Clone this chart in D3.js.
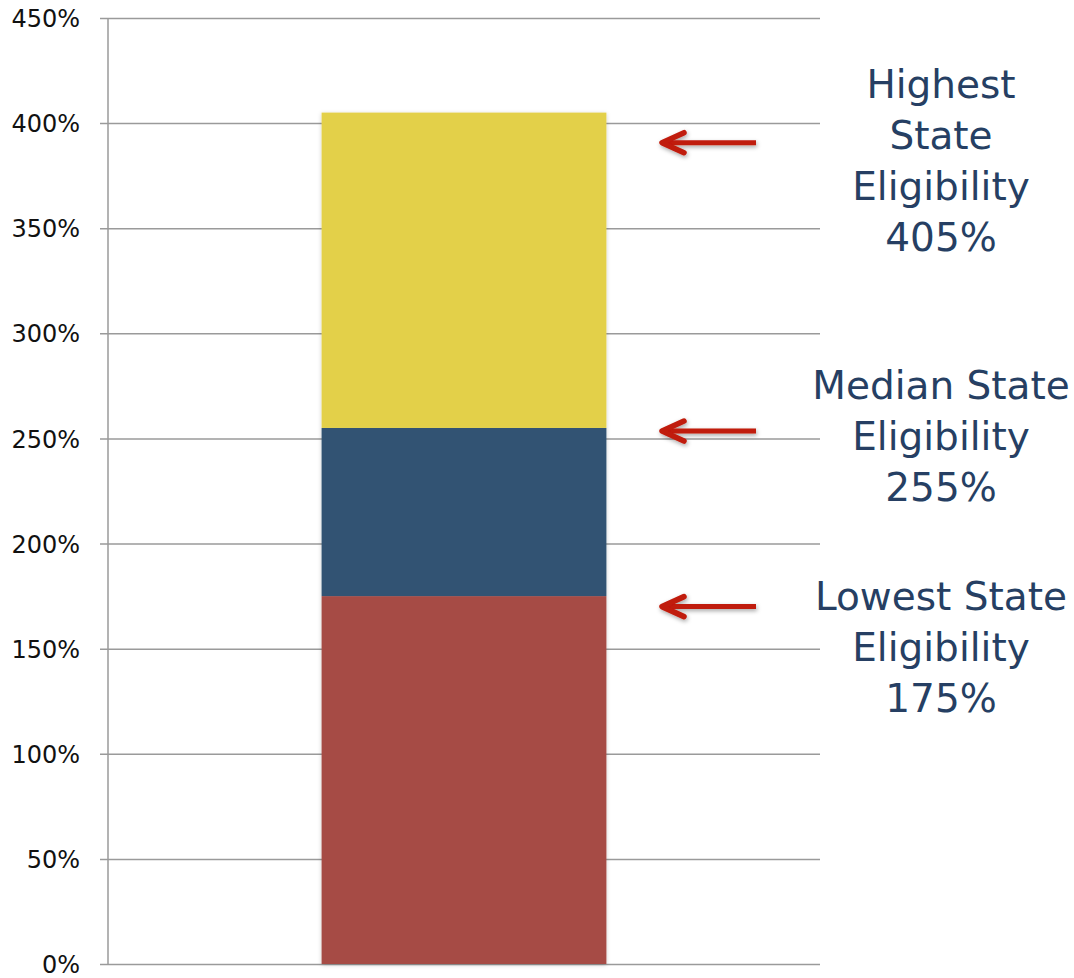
<!DOCTYPE html>
<html>
<head>
<meta charset="utf-8">
<script src="https://cdn.jsdelivr.net/npm/d3@7"></script>
<style>
  body { margin: 0; background: #fff; }
  svg { display: block; }
</style>
</head>
<body>
<svg id="chart"></svg>
<script>
// data
var category = ["States"];
var segNames = ["Lowest", "Median", "Highest"];
var segValues = [175, 255, 405];          // cumulative top of each segment (%)
var segColors = ["#a64b45", "#305373", "#e3d04a"];
var yTicks = [0, 50, 100, 150, 200, 250, 300, 350, 400, 450];

// annotation text + where the arrow / first text line sit (in % units)
var noteLines = [
  ["Lowest State", "Eligibility", "175%"],
  ["Median State", "Eligibility", "255%"],
  ["Highest", "State", "Eligibility", "405%"]
];
var arrowAt = [170, 253.5, 390.7];
var noteTopAt = [168.4, 269, 412];

var width = 1074, height = 978;
var margin = {left: 108, right: 254, top: 18, bottom: 14};

var svg = d3.select('#chart')
    .attr('width', width)
    .attr('height', height);

var defs = svg.append('defs');
var sh = defs.append('filter').attr('id', 'shadow')
    .attr('x', '-20%').attr('y', '-20%').attr('width', '140%').attr('height', '140%');
sh.append('feDropShadow')
    .attr('dx', 1).attr('dy', 2).attr('stdDeviation', 2)
    .attr('flood-color', '#000').attr('flood-opacity', 0.35);
var bsh = defs.append('filter').attr('id', 'barshadow')
    .attr('x', '-5%').attr('y', '-5%').attr('width', '110%').attr('height', '110%');
bsh.append('feDropShadow')
    .attr('dx', 0).attr('dy', 1).attr('stdDeviation', 2)
    .attr('flood-color', '#000').attr('flood-opacity', 0.2);

var yScale = d3.scaleLinear()
    .domain([0, 450])
    .range([height - margin.bottom, margin.top]);

var xScale = d3.scaleBand()
    .domain(category)
    .range([margin.left, width - margin.right])
    .paddingInner(0)
    .paddingOuter(0.75);

// gridlines
var yAxis = d3.axisLeft(yScale)
    .tickValues(yTicks)
    .tickFormat(function(d) { return d + '%'; })
    .tickSize(-(width - margin.right - margin.left))
    .tickPadding(0);

var gAxis = svg.append('g')
    .attr('transform', 'translate(' + margin.left + ',0)')
    .call(yAxis);
gAxis.select('.domain').remove();
gAxis.selectAll('.tick line')
    .attr('x1', -8)
    .attr('stroke', '#9a9a9a')
    .attr('stroke-width', 1.5);
gAxis.selectAll('.tick text')
    .attr('x', -28)
    .attr('dy', '0.36em')
    .style('font-family', '"DejaVu Sans", Verdana, sans-serif')
    .style('font-size', '24px')
    .attr('fill', '#111');

// vertical axis line
svg.append('line')
    .attr('x1', margin.left).attr('x2', margin.left)
    .attr('y1', yScale(450)).attr('y2', yScale(0))
    .attr('stroke', '#9a9a9a')
    .attr('stroke-width', 1.5);

// stacked bar
var segs = segValues.map(function(v, i) {
  return {name: segNames[i], y0: i === 0 ? 0 : segValues[i - 1], y1: v, color: segColors[i]};
});

svg.append('g')
    .attr('filter', 'url(#barshadow)')
  .selectAll('rect')
  .data(segs)
  .enter()
  .append('rect')
    .attr('x', xScale('States'))
    .attr('width', xScale.bandwidth())
    .attr('y', function(d) { return yScale(d.y1); })
    .attr('height', function(d) { return yScale(d.y0) - yScale(d.y1); })
    .attr('fill', function(d) { return d.color; });

// arrows
var arrowX0 = 662, arrowX1 = 756;
var arrows = svg.append('g')
    .attr('filter', 'url(#shadow)')
  .selectAll('g')
  .data(arrowAt)
  .enter()
  .append('g')
    .attr('transform', function(d) { return 'translate(0,' + yScale(d) + ')'; });

arrows.append('line')
    .attr('x1', arrowX0 + 2).attr('x2', arrowX1)
    .attr('y1', 0).attr('y2', 0)
    .attr('stroke', '#c01a0a')
    .attr('stroke-width', 5);
arrows.append('path')
    .attr('d', 'M' + (arrowX0 + 22) + ',-10 L' + arrowX0 + ',0 L' + (arrowX0 + 22) + ',10')
    .attr('fill', 'none')
    .attr('stroke', '#c01a0a')
    .attr('stroke-width', 5.5)
    .attr('stroke-linecap', 'round')
    .attr('stroke-linejoin', 'round');

// annotation text
var lineH = 51;
var notes = svg.append('g')
  .selectAll('text')
  .data(noteLines)
  .enter()
  .append('text')
    .attr('x', 941)
    .attr('y', function(d, i) { return yScale(noteTopAt[i]); })
    .attr('text-anchor', 'middle')
    .style('font-family', '"DejaVu Sans", Verdana, sans-serif')
    .style('font-size', '39px')
    .attr('fill', '#263f63');

notes.selectAll('tspan')
  .data(function(d) { return d; })
  .enter()
  .append('tspan')
    .attr('x', 941)
    .attr('dy', function(d, i) { return i === 0 ? 0 : lineH; })
    .text(function(d) { return d; });
</script>
</body>
</html>
